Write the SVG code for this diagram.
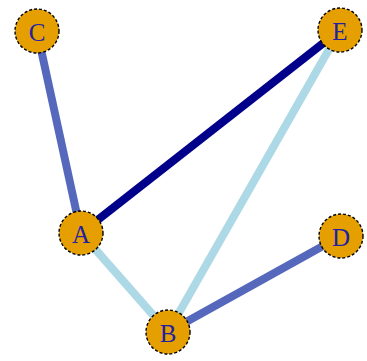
<svg xmlns="http://www.w3.org/2000/svg" width="367" height="361" viewBox="0 0 367 361">
<style>
.n{fill:#E69F00;stroke:#000;stroke-width:1.4;stroke-dasharray:3,2}
.t{font-family:"Liberation Serif","DejaVu Serif",serif;font-size:25px;fill:#2222a0;text-anchor:middle;dominant-baseline:central}
.e{stroke-width:8;stroke-linecap:butt}
</style>
<rect width="367" height="361" fill="#fff"/>
<g id="edges">
<line class="e" x1="37" y1="31" x2="81" y2="233" stroke="#5668BC"/>
<line class="e" x1="81" y1="233" x2="340" y2="30" stroke="#00008B"/>
<line class="e" x1="81" y1="233" x2="168" y2="332" stroke="#ADD8E6"/>
<line class="e" x1="340" y1="30" x2="168" y2="332" stroke="#ADD8E6"/>
<line class="e" x1="168" y1="332" x2="341" y2="236" stroke="#5668BC"/>
</g>
<g id="C"><circle class="n" cx="37" cy="31" r="22"/><text class="t" x="37" y="32">C</text></g>
<g id="E"><circle class="n" cx="340" cy="30" r="22"/><text class="t" x="340" y="31">E</text></g>
<g id="A"><circle class="n" cx="81" cy="233" r="22"/><text class="t" x="81" y="234">A</text></g>
<g id="D"><circle class="n" cx="341" cy="236" r="22"/><text class="t" x="341" y="237">D</text></g>
<g id="B"><circle class="n" cx="168" cy="332" r="22"/><text class="t" x="168" y="333">B</text></g>
</svg>
